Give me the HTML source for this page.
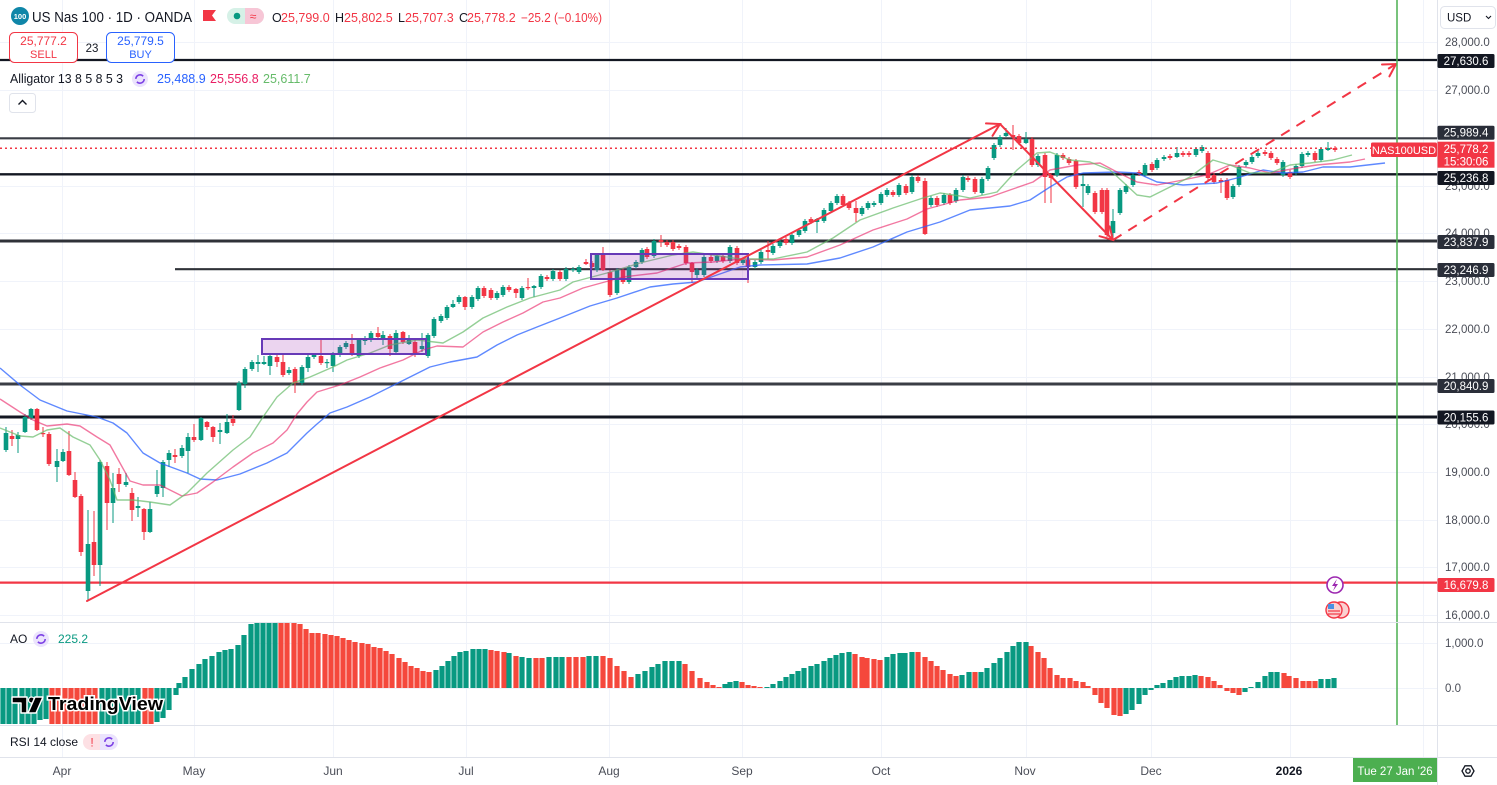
<!DOCTYPE html>
<html><head><meta charset="utf-8">
<style>
html,body{margin:0;padding:0;background:#fff;}
svg{display:block;}
text{font-family:"Liberation Sans",Arial,sans-serif;}
</style></head>
<body>
<svg id="s" width="1497" height="785" viewBox="0 0 1497 785" xmlns="http://www.w3.org/2000/svg">
<rect width="1497" height="785" fill="#fff"/>
<g id="grid" stroke="#f0f3fa" stroke-width="1"></g>
<g id="hlines"></g>
<g id="ao"></g>
<g id="candles"></g>
<g id="alli" fill="none" stroke-width="1.4" stroke-linejoin="round"></g>
<!-- rectangles -->
<rect x="262" y="339" width="164" height="15" fill="rgba(156,39,176,0.2)" stroke="#673ab7" stroke-width="2"/>
<rect x="591" y="254" width="157" height="25" fill="rgba(156,39,176,0.2)" stroke="#673ab7" stroke-width="2"/>
<!-- trend lines -->
<g stroke="#f23645" stroke-width="2" fill="none" stroke-linecap="round">
<line x1="87" y1="601" x2="1000" y2="124"/>
<polyline points="986,123.4 1000,124 992.5,135.8"/>
<line x1="1000" y1="124" x2="1113" y2="240"/>
<polyline points="1109.6,226.4 1113,240 1099.5,236.2"/>
<line x1="1113" y1="240" x2="1396" y2="64" stroke-dasharray="10 8" stroke-linecap="butt"/>
<polyline points="1382,64.5 1396,64 1389.4,76.4"/>
</g>
<!-- current price dotted -->
<line x1="0" y1="148.3" x2="1371" y2="148.3" stroke="#f23645" stroke-width="1.5" stroke-dasharray="2 3"/>
<!-- green vertical -->
<line x1="1397" y1="0" x2="1397" y2="725" stroke="#4caf50" stroke-width="1.5"/>
<!-- pane separators -->
<g stroke="#e0e3eb" stroke-width="1">
<line x1="0" y1="622.5" x2="1497" y2="622.5"/>
<line x1="0" y1="725.5" x2="1497" y2="725.5"/>
<line x1="0" y1="757.5" x2="1497" y2="757.5"/>
<line x1="1437.5" y1="0" x2="1437.5" y2="785"/>
</g>
<!-- event icons -->
<circle cx="1335" cy="585" r="8" fill="#fff" stroke="#9c27b0" stroke-width="1.6"/>
<path d="M1337,579 L1332,586 L1335,586 L1333,591 L1338,584 L1335,584 Z" fill="#9c27b0"/>
<circle cx="1341" cy="610" r="8" fill="#fbd0d0" stroke="#f23645" stroke-width="1.4"/>
<circle cx="1334" cy="610" r="8" fill="#fbd0d0" stroke="#f23645" stroke-width="1.4"/>
<rect x="1328" y="604" width="6" height="5" fill="#4a90e2"/>
<line x1="1328" y1="611" x2="1340" y2="611" stroke="#f23645" stroke-width="1.2"/>
<line x1="1328" y1="614" x2="1340" y2="614" stroke="#f23645" stroke-width="1.2"/>

<!-- header -->
<circle cx="20" cy="16" r="9" fill="#0f86a8"/>
<text x="20" y="19" font-size="7.5" font-weight="bold" fill="#fff" text-anchor="middle">100</text>
<text x="32" y="22" font-size="14.5" fill="#131722" textLength="160" lengthAdjust="spacingAndGlyphs">US Nas 100 · 1D · OANDA</text>
<path d="M203,10 H216 L212,15.5 L216,21 H203 Z" fill="#f23645"/>
<rect x="227" y="8" width="37" height="16" rx="8" fill="#d6f1e7"/>
<path d="M245,8 H256 A8,8 0 0 1 256,24 H245 Z" fill="#f7c6d6"/>
<circle cx="237" cy="16" r="3.3" fill="#089981"/>
<text x="253" y="20.5" font-size="12" fill="#f23645" text-anchor="middle">≈</text>
<g font-size="12.5">
<text x="272" y="22" fill="#131722">O</text><text x="281" y="22" fill="#f23645">25,799.0</text>
<text x="335" y="22" fill="#131722">H</text><text x="344" y="22" fill="#f23645">25,802.5</text>
<text x="398" y="22" fill="#131722">L</text><text x="405" y="22" fill="#f23645">25,707.3</text>
<text x="459" y="22" fill="#131722">C</text><text x="467" y="22" fill="#f23645">25,778.2</text>
<text x="521" y="22" fill="#f23645" textLength="81" lengthAdjust="spacingAndGlyphs">−25.2 (−0.10%)</text>
</g>
<rect x="9.5" y="32.5" width="68" height="30" rx="5" fill="#fff" stroke="#f23645" stroke-width="1"/>
<text x="43.5" y="45" font-size="12" fill="#f23645" text-anchor="middle">25,777.2</text>
<text x="43.5" y="58" font-size="11" fill="#f23645" text-anchor="middle">SELL</text>
<text x="92" y="52" font-size="11.5" fill="#131722" text-anchor="middle">23</text>
<rect x="106.5" y="32.5" width="68" height="30" rx="5" fill="#fff" stroke="#2962ff" stroke-width="1"/>
<text x="140.5" y="45" font-size="12" fill="#2962ff" text-anchor="middle">25,779.5</text>
<text x="140.5" y="58" font-size="11" fill="#2962ff" text-anchor="middle">BUY</text>
<text x="10" y="83" font-size="12.5" fill="#131722" textLength="113" lengthAdjust="spacingAndGlyphs">Alligator 13 8 5 8 5 3</text>
<circle cx="140" cy="79" r="8" fill="#ebe3fd"/>
<circle cx="140" cy="79" r="4.2" fill="none" stroke="#7b3fe4" stroke-width="1.6" stroke-dasharray="10 3.2"/>
<text x="157" y="83" font-size="12.5" fill="#2962ff">25,488.9</text>
<text x="210" y="83" font-size="12.5" fill="#e91e63">25,556.8</text>
<text x="263" y="83" font-size="12.5" fill="#66bb6a">25,611.7</text>
<rect x="9.5" y="93.5" width="26" height="19" rx="3" fill="#fff" stroke="#e0e3eb"/>
<polyline points="18.5,104.5 22.5,100.5 26.5,104.5" fill="none" stroke="#131722" stroke-width="1.4"/>

<!-- AO / RSI legends -->
<text x="10" y="643" font-size="12" fill="#131722">AO</text>
<circle cx="41" cy="639" r="8" fill="#ebe3fd"/>
<circle cx="41" cy="639" r="4.2" fill="none" stroke="#7b3fe4" stroke-width="1.6" stroke-dasharray="10 3.2"/>
<text x="58" y="643" font-size="12" fill="#089981">225.2</text>
<text x="10" y="746" font-size="12" fill="#131722">RSI 14 close</text>
<path d="M91,734 H100 V750 H91 A8,8 0 0 1 91,734 Z" fill="#fde0e4"/>
<path d="M100,734 H110 A8,8 0 0 1 110,750 H100 Z" fill="#ebe3fd"/>
<text x="92" y="746.5" font-size="12" fill="#f23645" text-anchor="middle">!</text>
<circle cx="109" cy="742" r="4.2" fill="none" stroke="#7b3fe4" stroke-width="1.6" stroke-dasharray="10 3.2"/>

<!-- TradingView logo -->
<g>
<path d="M12,697 H27 V713 H21 V703 H12 Z" fill="#000" stroke="#fff" stroke-width="1.5" stroke-linejoin="round"/>
<circle cx="31.5" cy="700" r="3" fill="#000" stroke="#fff" stroke-width="1.2"/>
<path d="M35,697 H43 L36,713 H28 Z" fill="#000" stroke="#fff" stroke-width="1.5" stroke-linejoin="round"/>
<text x="48" y="710" font-size="18" font-weight="bold" fill="#000" stroke="#fff" stroke-width="3" paint-order="stroke" textLength="115" lengthAdjust="spacingAndGlyphs">TradingView</text>
</g>

<!-- right axis -->
<rect x="1440.5" y="6.5" width="55" height="22" rx="4" fill="#fff" stroke="#e0e3eb"/>
<text x="1447" y="21.5" font-size="11.5" fill="#131722">USD</text>
<polyline points="1486,16 1488.5,18.5 1491,16" fill="none" stroke="#131722" stroke-width="1.1"/>
<g id="ticks" font-size="11.5" fill="#4a4d57"></g>
<g id="plabels" font-size="11.5"></g>
<!-- NAS100USD label -->
<rect x="1371" y="142.5" width="66" height="14.5" rx="1.5" fill="#f23645"/>
<text x="1404" y="153.8" font-size="11" fill="#fff" text-anchor="middle">NAS100USD</text>
<rect x="1437.5" y="141.7" width="57" height="26" fill="#f23645"/>
<text x="1466" y="153" font-size="11.5" fill="#fff" text-anchor="middle">25,778.2</text>
<text x="1466" y="165.5" font-size="11.5" fill="#fff" text-anchor="middle">15:30:06</text>
<!-- AO axis -->
<text x="1445" y="647" font-size="11.5" fill="#4a4d57">1,000.0</text>
<text x="1445" y="692" font-size="11.5" fill="#4a4d57">0.0</text>

<!-- time axis -->
<g font-size="12" fill="#4a4d57" text-anchor="middle">
<text x="62" y="775">Apr</text>
<text x="194" y="775">May</text>
<text x="333" y="775">Jun</text>
<text x="466" y="775">Jul</text>
<text x="609" y="775">Aug</text>
<text x="742" y="775">Sep</text>
<text x="881" y="775">Oct</text>
<text x="1025" y="775">Nov</text>
<text x="1151" y="775">Dec</text>
<text x="1289" y="775" font-weight="bold" fill="#131722">2026</text>
</g>
<rect x="1353" y="758" width="84" height="24" fill="#4caf50"/>
<text x="1395" y="775" font-size="11.5" fill="#fff" text-anchor="middle">Tue 27 Jan '26</text>
<path d="M1462,771 L1465,765.8 L1471,765.8 L1474,771 L1471,776.2 L1465,776.2 Z" fill="none" stroke="#131722" stroke-width="1.3"/>
<circle cx="1468" cy="771" r="2.2" fill="none" stroke="#131722" stroke-width="1.3"/>
</svg>
<script>
(function(){
const NS='http://www.w3.org/2000/svg';
function mk(tag,a,p,t){const e=document.createElementNS(NS,tag);for(const k in a)e.setAttribute(k,a[k]);if(t!=null)e.textContent=t;p.appendChild(e);return e;}
// grid
const grid=document.getElementById('grid');
[42,90,138,186,233,281,329,377,424,472,520,567,615].forEach(y=>mk('line',{x1:0,x2:1437,y1:y+0.5,y2:y+0.5},grid));
[643,688].forEach(y=>mk('line',{x1:0,x2:1437,y1:y+0.5,y2:y+0.5},grid));
[62,194,333,466,609,742,881,1026,1151,1290,1423].forEach(x=>mk('line',{x1:x+0.5,x2:x+0.5,y1:0,y2:757},grid));
// horizontal levels
const hl=document.getElementById('hlines');
[[60,'#131722',2.2,0],[138.3,'#3a3d45',2.2,0],[174.3,'#131722',2.4,0],[241,'#2f3238',3,0],[269.2,'#2f3238',2.2,175],[384,'#3a3d45',3,0],[417,'#131722',3,0],[582.6,'#f23645',2.2,0]].forEach(l=>mk('line',{x1:l[3],x2:1437,y1:l[0],y2:l[0],stroke:l[1],'stroke-width':l[2]},hl));
// candles
const cs="6,433,450,1,427,452;12,436,439,0,430,446;18,435,439,1,432,453;25,417,432,1,414,433;31,409,418,1,408,420;37,409,430,0,408,431;43,433,434,0,427,437;49,434,464,0;57,461,467,1,449,482;63,452,461,1,449,462;69,451,475,0,431,476;75,480,497,0,472,498;81,496,552,0,494,556;88,544,591,1,510,600;94,542,565,0,511,576;100,462,565,1,460,586;107,466,503,0,462,530;113,488,503,1,473,523;119,474,484,0,468,492;126,482,485,1,473,487;132,493,510,0,488,521;138,506,508,1,497,517;144,509,532,0,508,540;150,509,532,1,502,533;157,486,494,1,470,497;163,462,488,1,460,497;169,453,460,1,450,467;175,455,457,0,449,463;182,448,456,1,445,458;188,437,451,1,433,473;194,437,440,0,424,442;201,418,440,1,417,441;207,422,427,0,421,430;213,427,437,0,426,442;220,430,432,1,423,444;227,422,433,1,414,434;233,419,423,0,415,426;239,383,410,1,381,411;245,369,384,1,367,388;252,362,369,1;258,362,364,1,355,372;264,362,364,1,356,365;270,356,366,1,355,375;277,357,362,0,353,367;283,362,375,0,354,377;289,370,373,1,367,375;295,369,383,0,367,393;302,367,383,1;308,357,368,1,355,372;314,355,357,1;321,356,363,0,339,365;327,362,363,1,359,368;333,353,366,1,352,372;340,347,355,1;346,343,347,1;352,344,354,0,334,356;359,340,356,1;365,339,341,1,336,345;371,333,340,1,331,342;378,333,337,0,327,338;383,335,339,1,331,345;390,336,349,0,334,356;396,333,352,1,330,353;403,332,342,0,331,344;409,340,344,1,335,345;415,342,355,0;422,346,349,1,333,352;428,335,356,1;434,319,336,1;441,316,321,1;447,307,318,1;453,304,307,1,300,308;459,297,302,1;465,297,307,0,296,310;472,297,307,1;478,288,299,1;484,288,296,0;491,290,298,0;497,293,298,1;503,287,295,1;509,287,290,0,285,292;516,289,293,0,288,298;522,288,298,1;528,287,288,0,278,290;534,286,288,1,285,297;541,276,287,1;547,277,279,0;553,271,279,1;560,272,279,0;566,269,279,1;573,269,270,1;579,267,272,1;586,262,264,0,259,265;592,263,267,0;597,255,270,1;603,255,270,0,247,271;610,272,295,0,270,297;617,270,293,1;623,270,282,0;629,267,282,1;636,262,267,1;642,250,262,1;647,249,257,0;654,241,256,1;661,240,242,0,235,247;667,242,245,0;673,242,249,0;679,246,248,0;686,247,263,0;692,263,272,0,262,283;697,270,275,1,268,280;704,257,275,1;711,257,261,0;717,256,261,1;723,256,261,0;730,247,261,1;737,248,263,0;743,260,263,1;748,260,267,0,258,283;755,262,267,1;761,252,262,1;768,250,252,0,241,259;773,246,253,1;780,242,246,1;786,239,243,0;792,235,243,1;799,230,235,1;805,221,231,1;811,219,222,0;817,219,222,1,218,233;824,210,221,1;831,203,211,1;837,196,203,1;843,196,205,0;849,203,208,0;856,208,213,0,201,222;862,208,214,1;868,203,208,1;874,203,205,1;881,194,203,1;887,190,195,1;893,192,195,0;899,185,195,1;906,186,193,0;912,177,192,1;918,177,181,0;925,181,234,0,178,235;931,198,205,1;937,198,205,0;944,195,203,1;950,195,203,0;956,190,201,1;963,177,190,1;968,178,180,0;975,179,192,0;982,179,193,1;988,168,179,1;994,145,158,1;1000,137,145,1;1006,133,136,1,128,137;1013,135,137,0,125,150;1019,136,143,0;1026,139,143,1,132,144;1032,139,165,0;1038,156,165,1;1045,155,177,0,153,203;1051,175,178,0,173,203;1057,155,175,1;1063,155,158,0;1069,159,163,0;1076,161,187,0;1083,184,186,1,175,207;1088,186,193,1;1095,193,212,0;1102,190,212,0;1107,190,235,0;1113,221,233,1,209,241;1120,190,213,1;1126,186,192,1;1133,175,185,1;1139,172,174,0;1145,165,175,1;1152,164,170,0;1157,160,168,1;1164,157,159,1;1170,156,158,0;1177,153,157,1,147,158;1183,153,155,0;1189,153,155,0;1196,149,155,1;1202,147,151,1;1208,153,178,0;1214,175,182,0;1221,180,182,0,178,193;1227,180,198,0;1233,186,197,1;1239,167,185,1;1246,162,165,1;1252,157,162,1;1258,153,156,1;1265,152,154,0;1271,153,158,0;1277,159,163,0;1283,162,175,1;1290,172,177,0;1296,166,173,1;1302,154,166,1;1308,153,155,1;1315,153,160,0;1321,149,160,1;1328,148,150,1,142,151;1335,148,150,0";
const cg=document.getElementById('candles');
cs.split(';').forEach(s=>{const v=s.split(',').map(Number);const x=v[0],t=v[1],b=v[2],g=v[3];
 const col=g?'#089981':'#f23645';const hi=v.length>4?v[4]:t-2;const lo=v.length>5?v[5]:b+2;
 mk('line',{x1:x,x2:x,y1:hi,y2:lo,stroke:col,'stroke-width':1},cg);
 mk('rect',{x:x-2.3,y:t,width:4.6,height:Math.max(b-t,1.2),fill:col},cg);});
// alligator
const al=document.getElementById('alli');
const blue="0,368 20,385 40,400 67,411 97,417 113,423 127,433 143,453 160,463 187,473 200,479 217,480 240,474 267,463 287,453 307,433 317,424 330,413 347,407 370,397 390,387 410,377 430,367 450,362 477,357 497,345 517,335 537,327 560,318 590,306 617,298 650,287 673,284 697,282 717,275 740,267 760,265 807,264 840,258 873,247 907,232 940,222 970,210 990,208 1010,206 1030,200 1050,187 1067,177 1083,173 1117,172 1137,173 1157,182 1183,185 1217,183 1237,178 1263,170 1283,173 1303,172 1323,167 1350,167 1385,163";
const red="0,399 20,412 33,420 47,426 67,424 80,426 97,437 110,445 120,463 130,481 143,485 160,485 170,490 182,496 197,493 213,482 233,467 253,453 273,443 287,430 297,414 307,402 317,392 330,388 340,385 360,377 380,368 403,360 423,350 437,346 463,347 483,332 503,322 523,313 543,302 560,298 583,288 623,277 657,273 687,263 713,262 740,259 773,260 807,257 840,245 873,230 907,219 927,209 960,200 990,197 1010,190 1033,182 1050,170 1077,165 1100,163 1117,172 1137,182 1157,185 1183,180 1207,175 1230,165 1250,168 1270,173 1297,168 1317,165 1350,162 1365,159";
const green="0,428 20,436 33,437 47,430 60,428 73,437 90,445 100,460 110,480 117,500 133,500 150,502 170,505 187,493 207,473 233,450 250,437 263,417 277,397 293,383 310,377 333,367 347,360 370,353 390,345 417,340 443,343 463,332 483,318 507,307 530,298 560,290 573,282 607,273 640,263 673,255 693,252 713,255 740,259 773,259 807,252 833,238 860,220 893,208 923,198 940,193 960,196 970,198 997,192 1017,170 1037,153 1050,152 1070,160 1090,162 1110,170 1123,182 1137,195 1150,197 1170,187 1190,177 1213,160 1230,165 1250,173 1270,173 1290,165 1310,163 1333,160 1352,155";
mk('polyline',{points:blue,stroke:'#2962ff','stroke-opacity':0.75},al);
mk('polyline',{points:red,stroke:'#e91e63','stroke-opacity':0.6},al);
mk('polyline',{points:green,stroke:'#66bb6a','stroke-opacity':0.7},al);
// AO
const ao=document.getElementById('ao');const Z=688;
const aos="3,724,1;9,724,1;15,724,1;22,724,1;28,724,1;34,724,1;40,720,1;46,719,1;52,724,0;58,724,0;65,724,0;71,724,0;77,724,0;83,724,0;89,724,0;95,724,0;102,724,1;108,724,1;114,724,1;120,724,1;126,724,1;132,724,1;138,724,1;145,724,0;151,724,0;157,722,1;163,718,1;169,710,1;176,695,1;179,683,1;185,677,1;192,669,1;199,664,1;205,659,1;212,656,1;219,652,1;225,650,1;231,649,1;238,645,1;244,635,1;251,624,1;257,622,1;263,622,1;269,622,1;275,622,1;281,622,0;287,622,0;294,622,0;300,624,0;306,629,0;312,633,0;318,633,0;325,634,0;331,635,0;337,636,0;343,638,0;349,640,0;355,642,0;362,643,0;368,644,0;374,647,0;380,648,0;386,651,0;392,654,0;399,658,0;405,662,0;411,666,0;417,668,0;423,671,0;429,672,0;436,670,1;442,666,1;448,661,1;454,656,1;460,652,1;466,651,1;473,649,1;479,649,1;485,649,1;491,650,0;497,651,0;504,652,0;509,653,1;516,656,0;522,657,1;529,658,1;536,658,0;542,658,0;549,657,1;556,657,1;562,657,1;569,657,0;576,657,0;583,657,0;589,656,1;596,656,1;603,656,0;610,658,0;617,666,0;624,671,0;631,677,0;638,674,1;645,671,1;652,667,1;658,664,1;665,661,1;672,661,1;679,661,1;685,664,0;692,671,0;700,678,0;707,682,0;713,685,0;719,687,0;725,684,1;730,682,1;736,681,1;742,682,0;748,685,0;754,686,0;760,687,0;767,687,1;773,684,1;780,681,1;786,677,1;792,674,1;798,671,1;804,668,1;811,666,1;817,664,1;824,661,1;830,658,1;836,655,1;842,653,1;849,652,1;855,654,0;862,657,0;867,658,0;874,659,0;880,660,0;887,657,1;893,654,1;900,653,1;905,653,1;912,652,1;918,652,0;925,657,0;931,661,0;937,666,0;943,670,0;950,674,0;956,676,0;962,675,1;969,672,1;975,672,0;981,672,1;987,668,1;994,663,1;1000,658,1;1007,652,1;1013,646,1;1019,642,1;1026,642,1;1031,646,0;1038,652,0;1044,658,0;1050,668,0;1057,675,0;1063,678,0;1070,678,0;1076,681,0;1083,682,0;1088,686,0;1095,695,0;1101,703,0;1107,708,0;1114,715,0;1120,716,0;1126,714,1;1132,710,1;1139,704,1;1145,695,1;1151,690,1;1157,685,1;1163,683,1;1170,680,1;1176,677,1;1182,676,1;1189,676,1;1195,675,1;1201,676,0;1208,677,0;1214,681,0;1220,685,0;1227,691,0;1233,693,0;1239,695,0;1245,692,1;1251,687,1;1258,682,1;1265,676,1;1271,672,1;1277,672,1;1284,673,0;1289,676,0;1296,678,0;1303,681,0;1309,681,0;1315,681,0;1321,679,1;1328,679,1;1334,678,1";
aos.split(';').forEach(s=>{const v=s.split(',').map(Number);const x=v[0],y=v[1];const col=v[2]?'#089981':'#f5483c';
 const top=Math.min(y,Z),h=Math.max(Math.abs(y-Z),1);mk('rect',{x:x-2.6,y:top,width:5.2,height:h,fill:col},ao);});
// ticks
const tk=document.getElementById('ticks');
[['28,000.0',42],['27,000.0',90],['25,000.0',186],['24,000.0',233],['23,000.0',281],['22,000.0',329],['21,000.0',377],['20,000.0',424],['19,000.0',472],['18,000.0',520],['17,000.0',567],['16,000.0',615]].forEach(t=>mk('text',{x:1445,y:t[1]+4},tk,t[0]));
// price labels
const pl=document.getElementById('plabels');
[['27,630.6',61,'#131722'],['25,989.4',132.7,'#2a2e39'],['25,236.8',178,'#131722'],['23,837.9',242,'#2a2e39'],['23,246.9',270,'#2a2e39'],['20,840.9',386,'#2a2e39'],['20,155.6',417.5,'#131722'],['16,679.8',585,'#f23645']].forEach(p=>{
 mk('rect',{x:1437.5,y:p[1]-7,width:57,height:14,rx:1.5,fill:p[2]},pl);
 mk('text',{x:1466,y:p[1]+4,fill:'#fff','text-anchor':'middle'},pl,p[0]);});
})();
</script>
</body></html>
